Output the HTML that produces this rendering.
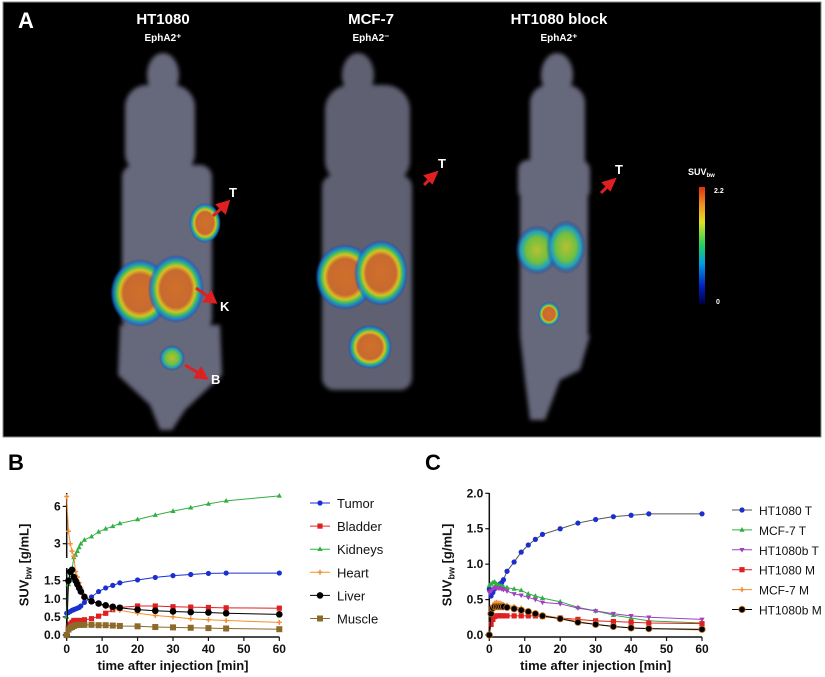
<!DOCTYPE html>
<html><head><meta charset="utf-8"><style>
body{margin:0;background:#fff;}
svg{display:block;font-family:"Liberation Sans",Arial,sans-serif;}
</style></head><body>
<svg id="fig" width="825" height="677" viewBox="0 0 825 677" xmlns="http://www.w3.org/2000/svg">
<defs>
<filter id="b2"><feGaussianBlur stdDeviation="2"/></filter>
<radialGradient id="hot"><stop offset="0" stop-color="#d0702a"/><stop offset="0.55" stop-color="#c86a30"/><stop offset="0.68" stop-color="#d8c020"/><stop offset="0.78" stop-color="#40c060"/><stop offset="0.9" stop-color="#1080e0" stop-opacity="0.8"/><stop offset="1" stop-color="#1030a0" stop-opacity="0"/></radialGradient>
<radialGradient id="warm"><stop offset="0" stop-color="#b8c030"/><stop offset="0.5" stop-color="#70c040"/><stop offset="0.75" stop-color="#20a0c0"/><stop offset="1" stop-color="#1030a0" stop-opacity="0"/></radialGradient>
<linearGradient id="cbar" x1="0" y1="1" x2="0" y2="0"><stop offset="0" stop-color="#000040"/><stop offset="0.15" stop-color="#0020c0"/><stop offset="0.35" stop-color="#00a0e0"/><stop offset="0.5" stop-color="#20d060"/><stop offset="0.7" stop-color="#e0e020"/><stop offset="0.85" stop-color="#f09020"/><stop offset="1" stop-color="#e03010"/></linearGradient>
</defs>
<g>
<rect x="3" y="2" width="818" height="435" fill="#000" stroke="#888" stroke-width="1"/>
<text x="18" y="28" fill="#fff" font-size="22" font-weight="bold">A</text>
<text x="163" y="24" fill="#fff" font-size="15" font-weight="bold" text-anchor="middle">HT1080</text>
<text x="163" y="41" fill="#fff" font-size="10" font-weight="bold" text-anchor="middle">EphA2⁺</text>
<text x="371" y="24" fill="#fff" font-size="15" font-weight="bold" text-anchor="middle">MCF-7</text>
<text x="371" y="41" fill="#fff" font-size="10" font-weight="bold" text-anchor="middle">EphA2⁻</text>
<text x="559" y="24" fill="#fff" font-size="15" font-weight="bold" text-anchor="middle">HT1080 block</text>
<text x="559" y="41" fill="#fff" font-size="10" font-weight="bold" text-anchor="middle">EphA2⁺</text>
<g filter="url(#b2)" fill="#66677c">
<ellipse cx="163" cy="75" rx="16" ry="22"/><rect x="125" y="85" width="70" height="90" rx="22"/>
<rect x="122" y="165" width="90" height="165" rx="12"/><path d="M120 325 L220 325 L222 375 L185 410 L172 430 L160 430 L150 405 L118 375 Z"/>
</g>
<ellipse cx="205" cy="223" rx="16" ry="20" fill="url(#hot)"/>
<ellipse cx="140" cy="293" rx="30" ry="34" fill="url(#hot)"/>
<ellipse cx="176" cy="289" rx="28" ry="34" fill="url(#hot)"/>
<ellipse cx="172" cy="358" rx="13" ry="13" fill="url(#warm)"/>
<g filter="url(#b2)" fill="#5e6072">
<ellipse cx="358" cy="75" rx="16" ry="22"/><rect x="325" y="85" width="85" height="100" rx="25"/>
<rect x="322" y="175" width="90" height="215" rx="12"/>
</g>
<ellipse cx="345" cy="277" rx="30" ry="33" fill="url(#hot)"/>
<ellipse cx="381" cy="273" rx="27" ry="33" fill="url(#hot)"/>
<ellipse cx="370" cy="347" rx="22" ry="22" fill="url(#hot)"/>
<g filter="url(#b2)" fill="#66677c">
<ellipse cx="557" cy="75" rx="16" ry="22"/><rect x="530" y="85" width="55" height="110" rx="18"/>
<rect x="518" y="160" width="72" height="40" rx="10"/>
<rect x="520" y="190" width="68" height="150" rx="8"/><path d="M520 335 L590 335 L580 370 L560 380 L545 420 L530 420 L525 380 Z"/>
</g>
<ellipse cx="537" cy="250" rx="22" ry="25" fill="url(#warm)"/>
<ellipse cx="566" cy="247" rx="20" ry="27" fill="url(#warm)"/>
<ellipse cx="549" cy="314" rx="11" ry="12" fill="url(#hot)"/>
<g stroke="#e02020" stroke-width="3" fill="#e02020">
<line x1="213" y1="216" x2="224" y2="206"/><polygon points="228,202 218,205 225,212"/>
<line x1="196" y1="288" x2="210" y2="298"/><polygon points="215,302 205,301 211,293"/>
<line x1="185" y1="365" x2="200" y2="374"/><polygon points="206,378 196,377 201,369"/>
<line x1="424" y1="185" x2="432" y2="177"/><polygon points="436,173 426,176 432,182"/>
<line x1="601" y1="193" x2="610" y2="184"/><polygon points="614,180 604,183 610,189"/>
</g>
<g fill="#fff" font-size="13" font-weight="bold">
<text x="229" y="197">T</text><text x="220" y="311">K</text><text x="211" y="384">B</text>
<text x="438" y="168">T</text><text x="615" y="174">T</text>
</g>
<g>
<text x="688" y="175" fill="#fff" font-size="9" font-weight="bold">SUV<tspan font-size="6" dy="2">bw</tspan></text>
<rect x="699" y="187" width="6" height="117" fill="url(#cbar)"/>
<text x="714" y="193" fill="#fff" font-size="7" font-weight="bold">2.2</text>
<text x="716" y="304" fill="#fff" font-size="7" font-weight="bold">0</text>
</g>
</g>
<text x="8" y="470" font-size="22" font-weight="bold">B</text>
<text x="425" y="470" font-size="22" font-weight="bold">C</text>
<g id="chartB"></g>
<g id="chartC"></g>
</svg>
<script>
const times = [0,0.5,1,1.5,2,2.5,3,3.5,4,5,7,9,11,13,15,20,25,30,35,40,45,60];
const bTumor = [0.6,0.62,0.65,0.68,0.7,0.72,0.74,0.76,0.8,0.9,1.05,1.2,1.3,1.37,1.44,1.52,1.59,1.64,1.67,1.7,1.71,1.71];
const bBladder = [0,0.25,0.3,0.35,0.4,0.4,0.4,0.4,0.4,0.42,0.45,0.52,0.6,0.7,0.76,0.8,0.8,0.78,0.77,0.76,0.75,0.74];
const bKidneys = [0.5,1.4,1.7,1.8,1.9,2.1,2.4,2.7,3.0,3.3,3.57,3.95,4.2,4.4,4.63,4.95,5.3,5.62,5.9,6.2,6.45,6.85];
const bHeart = [6.8,4.0,3.0,2.4,2.0,1.75,1.6,1.45,1.3,1.1,0.95,0.85,0.78,0.72,0.68,0.6,0.54,0.5,0.45,0.42,0.4,0.35];
const bLiver = [0,1.5,1.75,1.8,1.6,1.5,1.4,1.3,1.2,1.05,0.93,0.87,0.82,0.78,0.75,0.7,0.67,0.65,0.63,0.62,0.6,0.57];
const bMuscle = [0,0.15,0.2,0.22,0.25,0.27,0.28,0.28,0.28,0.28,0.28,0.27,0.27,0.26,0.25,0.24,0.22,0.21,0.2,0.19,0.18,0.16];
const cHT1080T = [0.65,0.55,0.6,0.65,0.68,0.7,0.72,0.74,0.78,0.9,1.03,1.17,1.27,1.35,1.42,1.5,1.58,1.63,1.67,1.69,1.71,1.71];
const cMCF7T = [0.7,0.72,0.74,0.75,0.72,0.7,0.7,0.69,0.68,0.67,0.65,0.63,0.58,0.55,0.52,0.47,0.39,0.34,0.28,0.24,0.2,0.17];
const cHT1080bT = [0.6,0.62,0.65,0.67,0.66,0.66,0.66,0.65,0.64,0.62,0.58,0.56,0.53,0.5,0.46,0.44,0.38,0.34,0.3,0.27,0.25,0.22];
const cHT1080M = [0,0.15,0.22,0.26,0.27,0.27,0.27,0.27,0.27,0.27,0.27,0.27,0.27,0.27,0.26,0.24,0.22,0.2,0.19,0.18,0.17,0.16];
const cMCF7M = [0,0.3,0.42,0.45,0.46,0.45,0.45,0.44,0.43,0.42,0.4,0.38,0.34,0.3,0.28,0.24,0.19,0.15,0.12,0.1,0.09,0.07];
const cHT1080bM = [0,0.3,0.38,0.4,0.4,0.4,0.4,0.4,0.4,0.39,0.37,0.35,0.33,0.3,0.27,0.23,0.18,0.15,0.12,0.1,0.09,0.08];
const xTicks = [0,10,20,30,40,50,60];
const bYTicksLow = [0,0.5,1.0,1.5];
const bYTicksHigh = [3,6];
const cYTicks = [0,0.5,1.0,1.5,2.0];
const bNames = ["Tumor","Bladder","Kidneys","Heart","Liver","Muscle"];
const cNames = ["HT1080 T","MCF-7 T","HT1080b T","HT1080 M","MCF-7 M","HT1080b M"];

const NS="http://www.w3.org/2000/svg";
function mk(parent,tag,attrs,txt){const e=document.createElementNS(NS,tag);for(const k in attrs)e.setAttribute(k,attrs[k]);if(txt!==undefined)e.textContent=txt;parent.appendChild(e);return e;}
function marker(g,shape,x,y,col,s){
  let e;
  if(shape==="circle") e=mk(g,"circle",{cx:x,cy:y,r:s,fill:col});
  else if(shape==="square") e=mk(g,"rect",{x:x-s,y:y-s,width:2*s,height:2*s,fill:col});
  else if(shape==="tri") e=mk(g,"polygon",{points:`${x},${y-s*1.1} ${x-s},${y+s*0.7} ${x+s},${y+s*0.7}`,fill:col});
  else if(shape==="itri") e=mk(g,"polygon",{points:`${x},${y+s*1.1} ${x-s},${y-s*0.7} ${x+s},${y-s*0.7}`,fill:col});
  else if(shape==="plus") e=mk(g,"path",{d:`M${x-s} ${y}H${x+s}M${x} ${y-s}V${y+s}`,stroke:col,"stroke-width":1.5});
  else if(shape==="ocircle") e=mk(g,"circle",{cx:x,cy:y,r:s,fill:col,stroke:"#c07020","stroke-width":0.8});
  return e;
}
function axisText(g,x,y,t,anchor){return mk(g,"text",{x:x,y:y,"font-size":12,"font-weight":"bold","text-anchor":anchor,fill:"#111"},t);}

function drawChart(root,opt){
  const xS=t=>opt.x0+(opt.x1-opt.x0)*t/60;
  const yS=opt.yS;
  const axG=mk(root,"g",{});
  
  
  mk(axG,"line",{x1:opt.x0,y1:opt.yBase+2,x2:opt.x1,y2:opt.yBase+2,stroke:"#111","stroke-width":1.5});
  opt.ySegs.forEach(s=>mk(axG,"line",{x1:opt.x0,y1:s[0],x2:opt.x0,y2:s[1],stroke:"#111","stroke-width":1.5}));
  xTicks.forEach(t=>{mk(axG,"line",{x1:xS(t),y1:opt.yBase+2,x2:xS(t),y2:opt.yBase+6,stroke:"#111","stroke-width":1.2});
    const lb=axisText(axG,xS(t),opt.yBase+18,String(t),"middle");
    
    });
  opt.yTicks.forEach(v=>{const y=yS(v);mk(axG,"line",{x1:opt.x0-4,y1:y,x2:opt.x0,y2:y,stroke:"#111","stroke-width":1.2});
    const lb=axisText(axG,opt.x0-6,y+4,opt.fmt(v),"end");
    
    });
  const xt=mk(axG,"text",{x:(opt.x0+opt.x1)/2,y:opt.yBase+35,"font-size":13,"font-weight":"bold","text-anchor":"middle",fill:"#111"},"time after injection [min]");
  
  
  const yt=mk(axG,"text",{transform:`translate(${opt.x0-38},${opt.yMid}) rotate(-90)`,"font-size":13,"font-weight":"bold","text-anchor":"middle",fill:"#111"});
  
  
  mk(yt,"tspan",{},"SUV");mk(yt,"tspan",{"font-size":9,dy:3},"bw");mk(yt,"tspan",{dy:-3}," [g/mL]");
  opt.series.forEach((s,i)=>{
    const g=mk(root,"g",{});
    
    
    const pts=times.map((t,j)=>[xS(t),yS(s.data[j])]);
    mk(g,"polyline",{points:pts.map(p=>p.join(",")).join(" "),fill:"none",stroke:s.line,"stroke-width":1});
    pts.forEach(p=>{const m=marker(g,s.shape,p[0],p[1],s.col,s.size);
      
      });
    const lg=mk(root,"g",{});
    
    
    const ly=opt.legY+i*opt.legDy;
    mk(lg,"line",{x1:opt.legX,y1:ly,x2:opt.legX+20,y2:ly,stroke:s.line,"stroke-width":1});
    marker(lg,s.shape,opt.legX+10,ly,s.col,s.size);
    mk(lg,"text",{x:opt.legX+27,y:ly+5,"font-size":opt.legFont,fill:"#111"},opt.names[i]);
  });
}
const yB=v=> v<=1.85 ? 635-(635-568)*v/1.85 : 543.7-(v-3)*12.43;
drawChart(document.getElementById("chartB"),{x0:66.7,x1:279.3,yBase:635,yMid:565,yS:yB,
  ySegs:[[637,568],[558,493]],yTicks:bYTicksLow.concat(bYTicksHigh),
  fmt:v=> v>=3? String(v): v.toFixed(1),names:bNames,legX:310,legY:503,legDy:23.1,legFont:13,
  series:[
   {data:bTumor,col:"#1a2fd0",line:"#1a2fd0",shape:"circle",size:2.6},
   {data:bBladder,col:"#e02020",line:"#e02020",shape:"square",size:2.6},
   {data:bKidneys,col:"#30b040",line:"#30b040",shape:"tri",size:2.6},
   {data:bHeart,col:"#f09030",line:"#f09030",shape:"plus",size:2.5},
   {data:bLiver,col:"#000",line:"#000",shape:"circle",size:3.3},
   {data:bMuscle,col:"#8b6a2a",line:"#8b6a2a",shape:"square",size:3}
  ]});
const yC=v=>635-(635-493.3)*v/2;
drawChart(document.getElementById("chartC"),{x0:489.3,x1:702,yBase:635,yMid:565,yS:yC,
  ySegs:[[637,493]],yTicks:cYTicks,fmt:v=>v.toFixed(1),names:cNames,legX:732,legY:510,legDy:19.9,legFont:12,
  series:[
   {data:cHT1080T,col:"#1a2fd0",line:"#555",shape:"circle",size:2.6},
   {data:cMCF7T,col:"#30b040",line:"#30b040",shape:"tri",size:2.6},
   {data:cHT1080bT,col:"#a040c0",line:"#a040c0",shape:"itri",size:2.6},
   {data:cHT1080M,col:"#e02020",line:"#e02020",shape:"square",size:2.6},
   {data:cMCF7M,col:"#f09030",line:"#f09030",shape:"plus",size:2.5},
   {data:cHT1080bM,col:"#000",line:"#000",shape:"ocircle",size:3.2}
  ]});
</script>
</body></html>
